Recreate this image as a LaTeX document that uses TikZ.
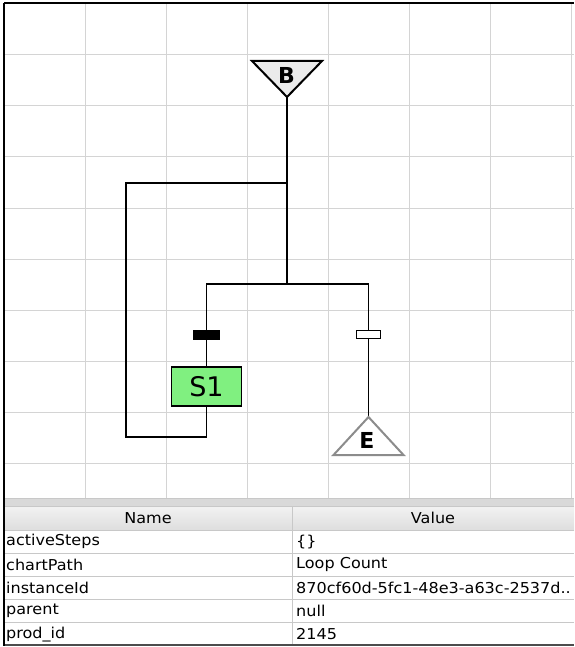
\documentclass[tikz,border=0pt]{standalone}
\usepackage{fontspec}
\setmainfont{DejaVu Sans}
\newfontfamily\tblfont[FakeStretch=1.07]{DejaVu Sans}
\definecolor{gridc}{HTML}{D4D4D4}
\definecolor{rowc}{HTML}{C8C8C8}
\definecolor{bandc}{HTML}{D9D9D9}
\definecolor{stepgreen}{HTML}{80F080}
\definecolor{btrifill}{HTML}{EBEBEB}
\definecolor{etric}{HTML}{8C8C8C}
\begin{document}
\begin{tikzpicture}[x=1pt,y=-1pt,
  gridline/.style={gridc,line width=1pt},
  rowline/.style={rowc,line width=1pt},
  wire/.style={black,line width=1.6pt},
  btri/.style={draw=black,fill=btrifill,line width=2pt,line join=miter},
  etri/.style={draw=etric,fill=white,line width=2pt,line join=miter},
  tlabel/.style={font=\bfseries\fontsize{22}{24}\selectfont,inner sep=0pt},
  fillbar/.style={draw=black,fill=black,line width=1pt,minimum width=26pt,minimum height=9pt,inner sep=0pt},
  openbar/.style={draw=black,fill=white,line width=1.5pt,minimum width=24pt,minimum height=8pt,inner sep=0pt},
  stepbox/.style={draw=black,fill=stepgreen,line width=1.8pt,minimum width=70pt,minimum height=39pt,inner sep=0pt,font=\fontsize{27}{29}\selectfont},
  celltext/.style={font=\tblfont\fontsize{15}{17}\selectfont,inner sep=0pt,anchor=west},
  headtext/.style={font=\tblfont\fontsize{15}{17}\selectfont,inner sep=0pt}
]
\useasboundingbox (0,0) rectangle (574,647);
\fill[white] (0,0) rectangle (574,647);
% grid
\foreach \x in {85,166,...,571} \draw[gridline] (\x,3) -- (\x,498);
\foreach \y in {55,106,...,463} \draw[gridline] (4,\y) -- (574,\y);
% table
\fill[bandc] (4,498) rectangle (574,506);
\shade[top color=white!95!black,bottom color=white!87!black] (4,506) rectangle (574,530);
\draw[rowline] (4,498) -- (574,498);
\draw[rowline] (4,506) -- (574,506);
\draw[rowline] (4,530) -- (574,530);
\foreach \y in {553.2,576.4,599.6,622.8} \draw[rowline] (4,\y) -- (574,\y);
\draw[rowline] (292,506) -- (292,645);
\draw[black!70,line width=1.2pt] (4,645) -- (574,645);
\draw[black,line width=1.5pt] (4,3) -- (574,3);
\draw[black,line width=1.5pt] (4,3) -- (4,646);
\node[headtext] (hname) at (148,518) {Name};
\node[headtext] (hvalue) at (433,518) {Value};
\node[celltext] (n1) at (6,541.6) {activeSteps};
\node[celltext] (n2) at (6,564.8) {chartPath};
\node[celltext] (n3) at (6,588) {instanceId};
\node[celltext] (n4) at (6,611.2) {parent};
\node[celltext] (n5) at (6,634.4) {prod\_id};
\node[celltext] (v1) at (296,541.6) {\{\}};
\node[celltext] (v2) at (296,564.8) {Loop Count};
\node[celltext] (v3) at (296,588) {870cf60d-5fc1-48e3-a63c-2537d..};
\node[celltext] (v4) at (296,611.2) {null};
\node[celltext] (v5) at (296,634.4) {2145};
% chart
\coordinate (Bapex) at (287,97);
\coordinate (Eapex) at (368.5,417);
\coordinate (j1) at (287,183);
\coordinate (j2) at (287,284);
\coordinate (jl) at (206.5,284);
\coordinate (jr) at (368.5,284);
\coordinate (l1) at (126,183);
\coordinate (l2) at (126,437);
\coordinate (l3) at (206.5,437);
\node[fillbar] (t1) at (206.5,334.5) {};
\node[openbar] (t2) at (368.5,334.5) {};
\node[stepbox] (S1) at (206.5,386.5) {S1};
\draw[wire] (Bapex) -- (j2);
\draw[wire,line join=miter] (j1) -- (l1) -- (l2) -- (l3) -- (S1.south);
\draw[wire,line cap=rect] (jl) -- (jr);
\draw[wire] (jl) -- (t1.north);
\draw[wire] (t1.south) -- (S1.north);
\draw[wire] (jr) -- (t2.north);
\draw[wire] (t2.south) -- (Eapex);
\draw[btri] (252,61) -- (322,61) -- (Bapex) -- cycle;
\node[tlabel] (B) at (286.5,75) {B};
\draw[etri] (Eapex) -- (403.5,455) -- (333.5,455) -- cycle;
\node[tlabel] (E) at (367,440) {E};
\end{tikzpicture}
\end{document}
